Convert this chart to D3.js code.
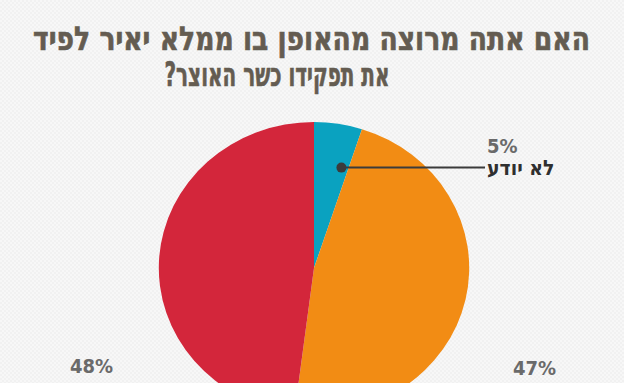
<!DOCTYPE html>
<html lang="he">
<head>
<meta charset="utf-8">
<script src="https://cdn.jsdelivr.net/npm/d3@7"></script>
<style>
  html, body { margin: 0; padding: 0; background: #f3f3f3; }
  svg { display: block; }
</style>
</head>
<body>
<div id="chart"></div>
<script>
// ---- data ----
const titleLines = ["האם אתה מרוצה מהאופן בו ממלא יאיר לפיד", "את תפקידו כשר האוצר?"];
const categories = ["לא יודע", "לא מרוצה", "מרוצה"];
const values = [5, 47, 48];
const valueLabels = ["5%", "47%", "48%"];
const colors = ["#0aa2c0", "#f28c14", "#d3263b"];

const W = 624, H = 383;
const svg = d3.select("#chart").append("svg")
  .attr("width", W).attr("height", H)
  .attr("viewBox", `0 0 ${W} ${H}`);

// dotted background texture
const defs = svg.append("defs");
const pat = defs.append("pattern").attr("id", "dots")
  .attr("width", 4).attr("height", 4).attr("patternUnits", "userSpaceOnUse");
pat.append("rect").attr("width", 4).attr("height", 4).attr("fill", "#f1f1f1");
pat.append("circle").attr("cx", 1).attr("cy", 1).attr("r", 0.9).attr("fill", "#fbfbfb");
pat.append("circle").attr("cx", 3).attr("cy", 3).attr("r", 0.9).attr("fill", "#fbfbfb");
svg.append("rect").attr("width", W).attr("height", H).attr("fill", "url(#dots)");

// title (each line squeezed horizontally to the reference width)
const titleFont = "'DejaVu Sans Condensed', 'DejaVu Sans', sans-serif";
const titleSpec = [
  { cx: 311.5, y: 50, len: 557 },
  { cx: 277, y: 86, len: 225 }
];
titleLines.forEach((line, i) => {
  const s = titleSpec[i];
  const tg = svg.append("g").attr("class", "title-line");
  const t = tg.append("text")
    .attr("x", 0).attr("y", 0)
    .attr("direction", "rtl")
    .attr("text-anchor", "middle")
    .style("font-family", titleFont)
    .style("font-weight", "bold")
    .style("font-size", "33px")
    .style("fill", "#645c51")
    .style("stroke", "#645c51")
    .style("stroke-width", "0.6px")
    .text(line);
  const natural = t.node().getComputedTextLength();
  const k = natural > 0 ? s.len / natural : 1;
  tg.attr("transform", `translate(${s.cx},${s.y}) scale(${k},1)`);
});

// pie
const R = 146, sx = 1.063;
const cx = 314, cy = 268;
const pie = d3.pie().sort(null).value(d => d.v);
const arcs = pie(categories.map((c, i) => ({ c, v: values[i], i })));
const arc = d3.arc().innerRadius(0).outerRadius(R);

const g = svg.append("g").attr("transform", `translate(${cx},${cy}) scale(${sx},1)`);
g.selectAll("path").data(arcs).join("path")
  .attr("d", arc)
  .attr("fill", d => colors[d.data.i]);

// leader for the small slice
const small = arcs[0];
const a = small.startAngle + (small.endAngle - small.startAngle) * 0.8;
const dotX = cx + Math.sin(a) * R * 0.71 * sx;
const dotY = cy - Math.cos(a) * R * 0.71;
svg.append("line")
  .attr("x1", dotX).attr("y1", dotY).attr("x2", 485).attr("y2", dotY)
  .attr("stroke", "#3b3b3b").attr("stroke-width", 2);
svg.append("circle").attr("cx", dotX).attr("cy", dotY).attr("r", 5).attr("fill", "#3b3b3b");

// labels
const labelFont = "'DejaVu Sans Condensed', 'DejaVu Sans', sans-serif";
const labelPos = [
  { x: 487, y: 153 },
  { x: 513, y: 375 },
  { x: 70, y: 373 }
];
const lg = svg.selectAll("g.lab").data(arcs).join("g").attr("class", "lab");
lg.append("text")
  .attr("x", d => labelPos[d.data.i].x)
  .attr("y", d => labelPos[d.data.i].y)
  .attr("text-anchor", "start")
  .style("font-family", labelFont)
  .style("font-weight", "bold")
  .style("font-size", "20px")
  .style("fill", "#6a6a6a")
  .text(d => valueLabels[d.data.i]);
// category name: only the small slice's name falls inside the visible frame
lg.filter(d => labelPos[d.data.i].y + 22 < H)
  .append("text")
  .attr("x", d => labelPos[d.data.i].x)
  .attr("y", d => labelPos[d.data.i].y + 22)
  .attr("direction", "rtl")
  .attr("text-anchor", "end")
  .style("font-family", labelFont)
  .style("font-weight", "bold")
  .style("font-size", "21px")
  .style("fill", "#2f2f2f")
  .text(d => d.data.c);
</script>
</body>
</html>
